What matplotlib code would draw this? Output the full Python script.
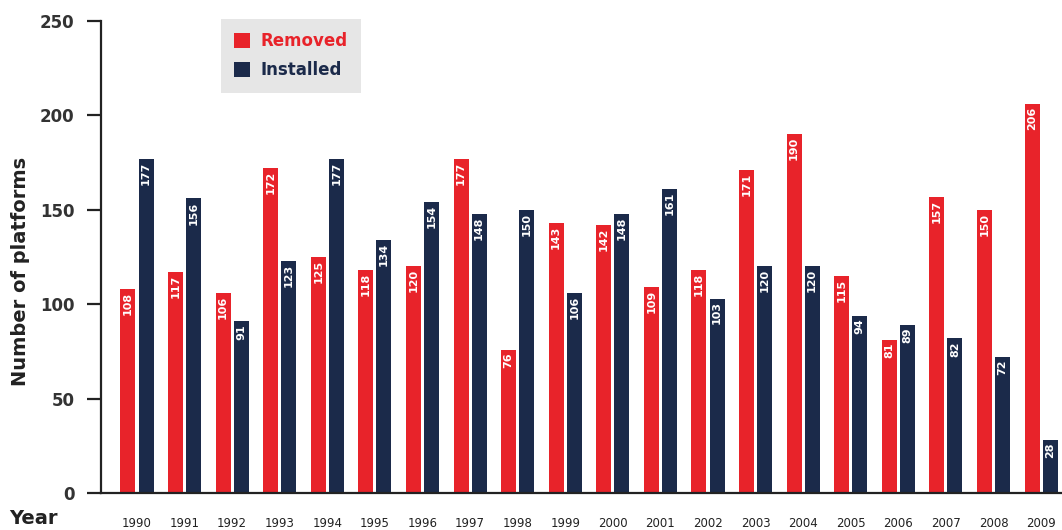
import numpy as np
import matplotlib
matplotlib.use('Agg')
from matplotlib import pyplot as plt

years = ['1990', '1991', '1992', '1993', '1994', '1995', '1996', '1997', '1998', '1999',
         '2000', '2001', '2002', '2003', '2004', '2005', '2006', '2007', '2008', '2009']
removed = [108, 117, 106, 172, 125, 118, 120, 177, 76, 143,
           142, 109, 118, 171, 190, 115, 81, 157, 150, 206]
installed = [177, 156, 91, 123, 177, 134, 154, 148, 150, 106,
             148, 161, 103, 120, 120, 94, 89, 82, 72, 28]

RED = '#E8232A'
NAVY = '#1B2A4A'
DARK = '#222222'

plt.rcParams['font.family'] = ['DejaVu Sans']

fig = plt.figure(figsize=(10.62, 5.30), dpi=100)
ax = fig.add_axes([0.0951, 0.0698, 0.9049, 0.8906])

x = np.arange(len(years))
w = 0.315
off = 0.19
b1 = ax.bar(x - off, removed, w, color=RED, label='Removed')
b2 = ax.bar(x + off, installed, w, color=NAVY, label='Installed')

# value labels inside bars, near the top
for bars, vals in ((b1, removed), (b2, installed)):
    for rect, v in zip(bars, vals):
        ax.text(rect.get_x() + rect.get_width() / 2, v - 1.5, str(v),
                rotation=90, ha='center', va='top', color='white',
                fontsize=8, fontweight='bold')

ax.set_xlim(-0.756, 19.44)
ax.set_ylim(0, 250)
ax.set_yticks([0, 50, 100, 150, 200, 250])
ax.set_xticks(x)
ax.set_xticklabels(years)

for s in ('top', 'right'):
    ax.spines[s].set_visible(False)
for s in ('left', 'bottom'):
    ax.spines[s].set_color(DARK)
    ax.spines[s].set_linewidth(1.6)

ax.tick_params(axis='y', length=10, width=1.6, color=DARK, pad=9,
               labelsize=12, labelcolor='#333333')
for lbl in ax.get_yticklabels():
    lbl.set_fontweight('bold')
ax.tick_params(axis='x', length=0, pad=17, labelsize=8.5, labelcolor=DARK)

ax.set_ylabel('Number of platforms', fontsize=14, fontweight='bold', color=DARK)
ax.yaxis.set_label_coords(-0.074, 0.47)
fig.text(0.009, 0.022, 'Year', fontsize=14, fontweight='bold', color=DARK,
         ha='left', va='center')

leg = ax.legend(loc='upper left', bbox_to_anchor=(221 / 1062, 1 - 19 / 530),
                bbox_transform=fig.transFigure, frameon=True, fancybox=False,
                facecolor='#E6E6E6', edgecolor='none', framealpha=1,
                prop={'weight': 'bold', 'size': 12}, handlelength=0.95,
                handleheight=0.95, handletextpad=0.6, labelspacing=0.65,
                borderpad=0.8, borderaxespad=0)
leg.get_texts()[0].set_color(RED)
leg.get_texts()[1].set_color(NAVY)

fig.savefig('out.png', dpi=100)
